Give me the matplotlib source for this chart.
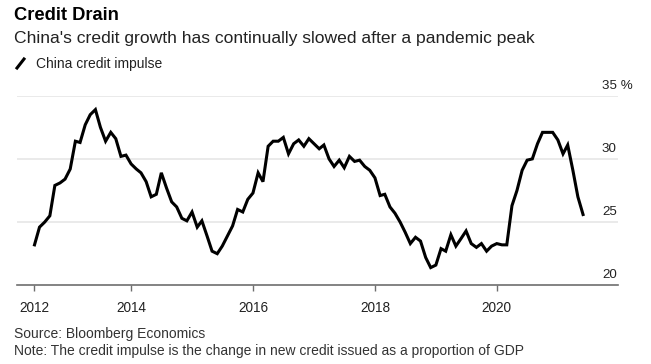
import matplotlib
matplotlib.use("Agg")
import matplotlib.pyplot as plt
import matplotlib.dates as mdates
from matplotlib.lines import Line2D
import pandas as pd

plt.rcParams['font.family'] = ['Liberation Sans', 'DejaVu Sans']

# ---- data (monthly, Jun 2012 - Jun 2021) ----
start_month = "2012-06-01"
impulse = [
    23.2, 24.6, 25.0, 25.5, 27.9, 28.1, 28.4, 29.2, 31.4, 31.3,
    32.7, 33.5, 33.9, 32.5, 31.4, 32.1, 31.6, 30.2, 30.3, 29.6,
    29.2, 28.9, 28.2, 27.0, 27.2, 28.9, 27.7, 26.6, 26.2, 25.3,
    25.1, 25.8, 24.6, 25.1, 23.9, 22.7, 22.5, 23.1, 23.9, 24.7,
    26.0, 25.8, 26.8, 27.3, 28.9, 28.2, 31.0, 31.4, 31.4, 31.7,
    30.4, 31.2, 31.5, 31.0, 31.6, 31.2, 30.8, 31.1, 30.0, 29.4,
    29.9, 29.3, 30.2, 29.8, 29.9, 29.4, 29.1, 28.5, 27.1, 27.2,
    26.2, 25.7, 25.0, 24.2, 23.3, 23.8, 23.5, 22.2, 21.4, 21.6,
    22.9, 22.7, 24.0, 23.1, 23.7, 24.3, 23.3, 23.0, 23.3, 22.7,
    23.1, 23.3, 23.2, 23.2, 26.3, 27.5, 29.1, 29.9, 30.0, 31.2,
    32.1, 32.1, 32.1, 31.5, 30.4, 31.1, 29.1, 27.0, 25.6,
]
dates = pd.date_range(start_month, periods=len(impulse), freq="MS")

xtick_dates = ["2012-06-01", "2014-01-01", "2016-01-01", "2018-01-01", "2020-01-01"]
xtick_labels = ["2012", "2014", "2016", "2018", "2020"]
ytick_values = [20, 25, 30, 35]
ytick_labels = ["20", "25", "30", "35 %"]

title = "Credit Drain"
subtitle = "China's credit growth has continually slowed after a pandemic peak"
legend_label = "China credit impulse"
source = "Source: Bloomberg Economics"
note = "Note: The credit impulse is the change in new credit issued as a proportion of GDP"

# ---- figure ----
W, H = 651, 364
fig = plt.figure(figsize=(W / 100, H / 100), dpi=100)

def fx(px):
    return px / W

def fy(py):
    return 1 - py / H

ax_left, ax_right = 17, 618
ax_top, ax_bottom = 95.7, 285.3
ax = fig.add_axes([fx(ax_left), fy(ax_bottom), fx(ax_right - ax_left), (ax_bottom - ax_top) / H])

ax.plot(dates, impulse, color="black", lw=2.2, solid_joinstyle="miter", zorder=3)

x0 = mdates.date2num(dates[0])
px_per_day = 5.08 / 30.44
ax.set_xlim(x0 - (34.5 - ax_left) / px_per_day, x0 + (ax_right - 34.5) / px_per_day)
ax.set_ylim(20, 35)

for s in ["top", "left", "right"]:
    ax.spines[s].set_visible(False)
ax.spines["bottom"].set_color("#6e6e6e")
ax.spines["bottom"].set_linewidth(1.2)

ax.set_xticks([mdates.date2num(pd.Timestamp(d)) for d in xtick_dates])
ax.set_xticklabels(xtick_labels)
ax.tick_params(axis="x", length=4, width=1, color="#6e6e6e", pad=7,
               labelsize=9.8, labelcolor="#222222")

ax.set_yticks([])
for v in ytick_values[1:]:
    ax.axhline(v, color="#e4e4e4", lw=1.1, zorder=1)
for v, lab in zip(ytick_values, ytick_labels):
    ax.annotate(lab, xy=(fx(602), v), xycoords=("figure fraction", "data"),
                xytext=(0, 4), textcoords="offset pixels",
                ha="left", va="bottom", fontsize=9.6, color="#222222")

# ---- header texts ----
fig.text(fx(14), fy(20), title, fontsize=13.2, fontweight="bold", ha="left", va="baseline", color="black")
fig.text(fx(14), fy(43), subtitle, fontsize=12.6, ha="left", va="baseline", color="#222222")
fig.add_artist(Line2D([fx(17), fx(24)], [fy(68), fy(59)], color="black", lw=2.2,
                      transform=fig.transFigure))
fig.text(fx(36), fy(68), legend_label, fontsize=10, ha="left", va="baseline", color="#222222")

# ---- footer ----
fig.text(fx(14), fy(338), source, fontsize=10, ha="left", va="baseline", color="#333333")
fig.text(fx(14), fy(355), note, fontsize=10, ha="left", va="baseline", color="#333333")

fig.savefig("out.png", dpi=100)
